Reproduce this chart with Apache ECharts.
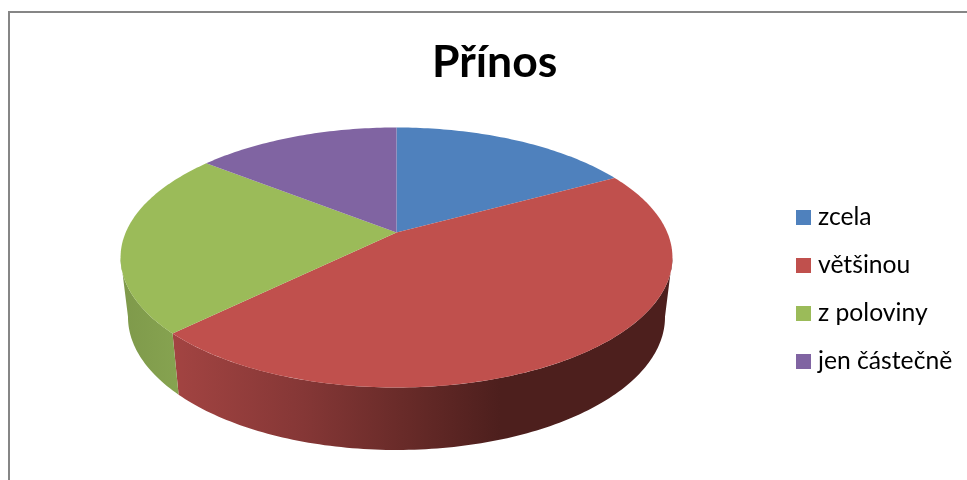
<!DOCTYPE html>
<html><head><meta charset="utf-8">
<style>html,body{margin:0;padding:0;background:#fff}#c{width:967px;height:480px}</style>
<script src="https://cdn.jsdelivr.net/npm/echarts@6/dist/echarts.min.js"></script>
</head><body><div id="c"></div>
<script>
const categories = ['zcela', 'většinou', 'z poloviny', 'jen částečně'];
const values = [17.1, 45.6, 22.9, 14.4];
const colors = ['#4F81BD', '#C0504D', '#9BBB59', '#8064A2'];
const title = 'Přínos';

const total = values.reduce((a, b) => a + b, 0);
const topFace = { cx: 396.5, cy: 232.5, a: 270.8, b: 125.2, k: 0.1923 };
const botFace = { cx: 396.5, cy: 291.5, a: 263.5, b: 128, k: 0.1923 };
const visibleFrom = 101, visibleTo = 259;
const wallFill = [
  null,
  new echarts.graphic.LinearGradient(172, 0, 500, 0, [
    { offset: 0, color: '#A34442' }, { offset: 0.4, color: '#853736' },
    { offset: 0.7, color: '#692B29' }, { offset: 1, color: '#4D1F1D' }], true),
  new echarts.graphic.LinearGradient(125, 0, 178, 0, [
    { offset: 0, color: '#7F9A4B' }, { offset: 1, color: '#86A350' }], true),
  null
];
function pt(f, deg) {
  const t = deg * Math.PI / 180, w = 1 + f.k * Math.cos(t);
  return [f.cx + f.a * Math.sin(t) / w, f.cy - f.b * Math.cos(t) / w];
}
function arc(f, from, to) {
  const n = Math.max(2, Math.ceil(Math.abs(to - from))), out = [];
  for (let i = 0; i <= n; i++) out.push(pt(f, from + (to - from) * i / n));
  return out;
}
function startAngle(idx) {
  let s = 0;
  for (let i = 0; i < idx; i++) s += values[i];
  return s / total * 360;
}
function renderSlice(params, api) {
  const idx = params.seriesIndex;
  const from = startAngle(idx), to = from + api.value(0) / total * 360;
  const children = [];
  const wa = Math.max(from, visibleFrom), wb = Math.min(to, visibleTo);
  if (wb > wa) {
    children.push({
      type: 'polygon', silent: true,
      shape: { points: arc(topFace, wa, wb).concat(arc(botFace, wb, wa)) },
      style: { fill: wallFill[idx] || colors[idx] }
    });
  }
  children.push({
    type: 'polygon', silent: true,
    shape: { points: [[topFace.cx, topFace.cy]].concat(arc(topFace, from, to)) },
    style: { fill: colors[idx] }
  });
  return { type: 'group', children };
}
const chart = echarts.init(document.getElementById('c'), null, { renderer: 'canvas' });
chart.setOption({
  animation: false,
  backgroundColor: '#fff',
  title: { text: title, left: 432, top: 40, padding: 0,
    textStyle: { fontFamily: 'Lato', fontSize: 44.5, fontWeight: 'bold', color: '#000' } },
  legend: {
    data: categories, orient: 'vertical', left: 796, top: 205, padding: 0,
    icon: 'rect', itemWidth: 15, itemHeight: 15, itemGap: 23,
    textStyle: { fontFamily: 'Lato', fontSize: 24.7, lineHeight: 25, color: '#000', padding: [0, 0, 0, 2] }
  },
  graphic: [{ type: 'polyline', silent: true,
    shape: { points: [[9, 480], [9, 12], [967, 12]] },
    style: { stroke: '#868686', lineWidth: 2, fill: null } }],
  series: categories.map((name, i) => ({
    type: 'custom', name, coordinateSystem: 'none', z: 2 + i,
    itemStyle: { color: colors[i] },
    renderItem: renderSlice,
    data: [[values[i]]]
  }))
});
</script></body></html>
